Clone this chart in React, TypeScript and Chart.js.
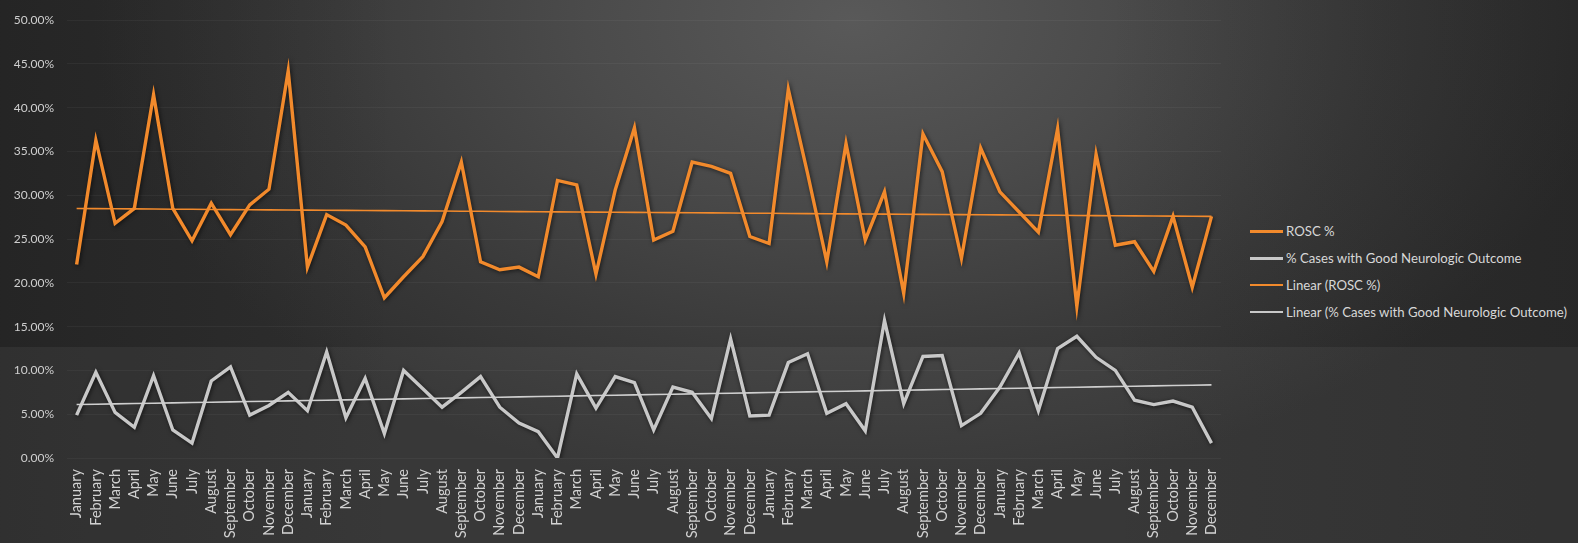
import React, { useEffect, useRef } from "react";
import { Chart, registerables } from "chart.js";

Chart.register(...registerables);

const MONTHS = [
  "January", "February", "March", "April", "May", "June",
  "July", "August", "September", "October", "November", "December",
];
const YEAR_COUNT = 5;
const LABELS: string[] = Array.from({ length: YEAR_COUNT }, () => MONTHS).flat();

// Monthly ROSC rate (%)
const ROSC = [
  22.1, 36.3, 26.8, 28.5, 41.5, 28.5, 24.8, 29.1, 25.5, 28.9, 30.7, 44.2,
  21.8, 27.8, 26.6, 24.1, 18.3, 20.7, 23.0, 27.0, 33.8, 22.4, 21.5, 21.8,
  20.7, 31.7, 31.2, 21.0, 30.6, 37.7, 24.9, 25.9, 33.8, 33.3, 32.5, 25.3,
  24.5, 42.1, 32.5, 22.4, 35.9, 24.9, 30.4, 18.8, 37.0, 32.7, 22.8, 35.4,
  30.4, 28.1, 25.8, 37.6, 17.3, 34.7, 24.3, 24.7, 21.3, 27.6, 19.5, 27.6,
];

// Monthly share of cases with good neurologic outcome (%)
const GOOD_NEURO = [
  4.9, 9.8, 5.2, 3.5, 9.4, 3.2, 1.7, 8.8, 10.4, 4.9, 6.0, 7.5,
  5.4, 12.1, 4.6, 9.1, 2.8, 10.0, 7.9, 5.8, 7.5, 9.3, 5.8, 4.0,
  3.0, 0.0, 9.6, 5.7, 9.3, 8.6, 3.2, 8.1, 7.5, 4.5, 13.6, 4.8,
  4.9, 10.9, 11.9, 5.1, 6.2, 3.1, 15.7, 6.2, 11.6, 11.7, 3.7, 5.1,
  8.1, 12.0, 5.4, 12.5, 13.9, 11.5, 10.0, 6.6, 6.1, 6.5, 5.8, 1.7,
];

const Y_TICKS = [0, 5, 10, 15, 20, 25, 30, 35, 40, 45, 50];

const ORANGE = "#f28a2c";
const GREY = "#c8c8c8";

// Least-squares linear trend across the series index
function linearTrend(values: number[]): number[] {
  const n = values.length;
  let sx = 0, sy = 0, sxx = 0, sxy = 0;
  values.forEach((y, i) => {
    sx += i; sy += y; sxx += i * i; sxy += i * y;
  });
  const slope = (n * sxy - sx * sy) / (n * sxx - sx * sx);
  const intercept = (sy - slope * sx) / n;
  return values.map((_, i) => intercept + slope * i);
}

const LEGEND_ITEMS = [
  { label: "ROSC %", color: ORANGE, thick: 3 },
  { label: "% Cases with Good Neurologic Outcome", color: GREY, thick: 3 },
  { label: "Linear (ROSC %)", color: ORANGE, thick: 2 },
  { label: "Linear (% Cases with Good Neurologic Outcome)", color: GREY, thick: 2 },
];

const FONT = "Lato, 'Open Sans', sans-serif";

// Soft dark halo behind the main series lines
const lineShadow = {
  id: "lineShadow",
  beforeDatasetDraw(chart: any, args: any) {
    const ctx = chart.ctx;
    ctx.save();
    if (args.index < 2) {
      ctx.shadowColor = "rgba(0,0,0,0.65)";
      ctx.shadowBlur = 4;
      ctx.shadowOffsetX = 1;
      ctx.shadowOffsetY = 1;
    }
  },
  afterDatasetDraw(chart: any) {
    chart.ctx.restore();
  },
};

export default function App() {
  const canvasRef = useRef<HTMLCanvasElement | null>(null);

  useEffect(() => {
    if (!canvasRef.current) return;
    const chart = new Chart(canvasRef.current, {
      type: "line",
      data: {
        labels: LABELS,
        datasets: [
          {
            label: "ROSC %",
            data: ROSC,
            borderColor: ORANGE,
            borderWidth: 3.4,
            pointRadius: 0,
            tension: 0,
            order: 2,
          },
          {
            label: "% Cases with Good Neurologic Outcome",
            data: GOOD_NEURO,
            borderColor: GREY,
            borderWidth: 3.4,
            pointRadius: 0,
            tension: 0,
            order: 3,
          },
          {
            label: "Linear (ROSC %)",
            data: linearTrend(ROSC),
            borderColor: ORANGE,
            borderWidth: 1.6,
            pointRadius: 0,
            order: 1,
          },
          {
            label: "Linear (% Cases with Good Neurologic Outcome)",
            data: linearTrend(GOOD_NEURO),
            borderColor: "#cfcfcf",
            borderWidth: 1.6,
            pointRadius: 0,
            order: 1,
          },
        ],
      },
      options: {
        animation: false,
        responsive: false,
        maintainAspectRatio: false,
        layout: { padding: { left: 0, right: 13, top: 17, bottom: 0 } },
        plugins: {
          legend: { display: false },
          tooltip: { enabled: false },
          title: { display: false },
        },
        scales: {
          x: {
            type: "category",
            offset: true,
            grid: { display: false, drawTicks: false },
            border: { display: false },
            ticks: {
              autoSkip: false,
              maxRotation: 90,
              minRotation: 90,
              padding: 11,
              color: "#d2d2d2",
              font: { family: FONT, size: 14.5 },
            },
            afterFit(scale: any) {
              scale.height = 85;
            },
          },
          y: {
            min: 0,
            max: 50,
            afterBuildTicks(scale: any) {
              scale.ticks = Y_TICKS.map((v) => ({ value: v }));
            },
            grid: {
              color: "rgba(255,255,255,0.045)",
              drawTicks: false,
            },
            border: { display: false },
            ticks: {
              padding: 13,
              color: "#cfcfcf",
              font: { family: FONT, size: 12 },
              callback: (v: any) => Number(v).toFixed(2) + "%",
            },
            afterFit(scale: any) {
              scale.width = 67;
            },
          },
        },
      },
      plugins: [lineShadow],
    } as any);
    return () => chart.destroy();
  }, []);

  return (
    <div
      style={{
        position: "fixed",
        left: 0,
        top: 0,
        width: 1578,
        height: 543,
        overflow: "hidden",
        background:
          "radial-gradient(ellipse 760px 480px at 54% 4%, #595959 0%, #4b4b4b 35%, #3a3a3a 70%, #2e2e2e 100%), #2d2d2d",
        fontFamily: FONT,
      }}
    >
      <div
        style={{
          position: "absolute",
          left: 0,
          top: 0,
          width: 1578,
          height: 543,
          background:
            "linear-gradient(90deg, rgba(20,20,20,0.35) 0%, rgba(20,20,20,0) 25%, rgba(20,20,20,0) 70%, rgba(20,20,20,0.25) 100%)",
        }}
      />
      <div
        style={{
          position: "absolute",
          left: 0,
          top: 347,
          width: 1578,
          height: 196,
          background: "rgba(255,255,255,0.05)",
        }}
      />
      <canvas
        ref={canvasRef}
        width={1240}
        height={543}
        style={{ position: "absolute", left: 0, top: 0, width: 1240, height: 543 }}
      />
      {LEGEND_ITEMS.map((item, i) => (
        <div
          key={item.label}
          style={{
            position: "absolute",
            left: 1250,
            top: 231 + i * 27 - 9,
            height: 18,
            display: "flex",
            alignItems: "center",
            color: "#d8d8d8",
            fontSize: 13.2,
            whiteSpace: "nowrap",
          }}
        >
          <span
            style={{
              display: "inline-block",
              width: 33,
              height: item.thick,
              background: item.color,
              marginRight: 3,
            }}
          />
          {item.label}
        </div>
      ))}
    </div>
  );
}
